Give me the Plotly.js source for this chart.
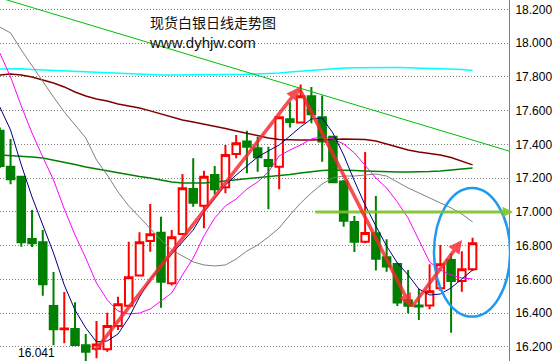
<!DOCTYPE html>
<html><head><meta charset="utf-8">
<script src="https://cdn.plot.ly/plotly-3.0.1.min.js"></script>
<style>html,body{margin:0;padding:0;background:#fff;overflow:hidden}#c{width:554px;height:361px}</style>
</head><body><div id="c"></div><script>
// ---- candle data ----
const idx = [0,1,2,3,4,5,6,7,8,9,10,11,12,13,14,15,16,17,18,19,20,21,22,23,24,25,26,27,28,29,30,31,32,33,34,35,36,37,38,39,40,41,42,43,44];
const openP  = [17.482,17.268,17.209,16.840,16.820,16.443,16.305,16.307,16.210,16.190,16.186,16.324,16.445,16.623,16.828,16.877,16.578,16.870,17.136,17.037,17.219,17.146,17.344,17.417,17.378,17.308,17.268,17.549,17.530,17.686,17.561,17.446,17.180,16.941,16.824,16.874,16.732,16.692,16.477,16.446,16.446,16.548,16.716,16.591,16.660];
const highP  = [17.500,17.433,17.215,17.012,16.893,16.644,16.526,16.465,16.277,16.354,16.403,16.498,16.824,16.880,17.047,16.972,16.893,17.225,17.318,17.245,17.273,17.397,17.456,17.482,17.446,17.387,17.565,17.650,17.756,17.741,17.690,17.452,17.190,16.976,17.356,17.095,16.838,16.700,16.656,16.544,16.691,16.805,16.755,16.767,16.848];
const lowP   = [17.260,17.165,16.794,16.792,16.504,16.210,16.222,16.207,16.100,16.133,16.172,16.301,16.440,16.620,16.765,16.433,16.564,16.866,17.031,16.903,17.105,17.111,17.318,17.229,17.239,17.016,17.134,17.500,17.526,17.526,17.298,17.170,16.913,16.763,16.815,16.653,16.646,16.443,16.400,16.360,16.423,16.532,16.285,16.528,16.650];
const closeP = [17.273,17.194,16.820,16.815,16.572,16.305,16.310,16.212,16.172,16.215,16.325,16.453,16.613,16.820,16.868,16.587,16.850,17.140,17.055,17.209,17.134,17.338,17.407,17.387,17.324,17.273,17.561,17.533,17.686,17.579,17.417,17.176,16.948,16.824,16.876,16.723,16.677,16.463,16.444,16.440,16.530,16.691,16.591,16.660,16.815];

// ---- indicator lines ----
const maNavy = [17.622,17.486,17.279,17.089,16.923,16.757,16.567,16.419,16.313,16.230,16.236,16.277,16.372,16.496,16.597,16.680,16.751,16.822,16.893,17.000,17.083,17.160,17.219,17.273,17.326,17.362,17.397,17.450,17.504,17.551,17.557,17.468,17.338,17.184,17.041,16.917,16.798,16.698,16.627,16.544,16.508,16.514,16.550,16.603,16.656];
const maMagenta = [17.942,17.800,17.628,17.468,17.326,17.190,17.018,16.864,16.727,16.579,16.479,16.413,16.396,16.401,16.425,16.473,16.520,16.627,16.727,16.858,16.964,17.036,17.077,17.136,17.178,17.237,17.332,17.367,17.397,17.433,17.445,17.433,17.403,17.350,17.279,17.202,17.142,17.059,16.964,16.834,16.704,16.656,16.627,16.609,16.603];
const maGray = [18.096,18.061,17.960,17.865,17.776,17.681,17.593,17.516,17.439,17.308,17.219,17.119,17.036,16.970,16.899,16.834,16.775,16.739,16.704,16.686,16.680,16.686,16.721,16.769,16.804,16.852,16.905,16.982,17.053,17.113,17.166,17.202,17.213,17.213,17.219,17.225,17.213,17.178,17.142,17.113,17.083,17.053,17.024,16.988,16.941];
const maDarkGreen = [17.338,17.335,17.332,17.326,17.320,17.308,17.296,17.281,17.267,17.255,17.243,17.231,17.219,17.210,17.201,17.190,17.178,17.172,17.172,17.172,17.178,17.184,17.190,17.196,17.201,17.207,17.213,17.222,17.231,17.240,17.246,17.249,17.249,17.246,17.243,17.240,17.237,17.237,17.237,17.237,17.240,17.243,17.249,17.255,17.261];
const maMaroon = [17.812,17.818,17.812,17.800,17.782,17.764,17.741,17.711,17.687,17.670,17.658,17.640,17.628,17.616,17.599,17.581,17.563,17.545,17.533,17.521,17.510,17.495,17.480,17.465,17.450,17.439,17.430,17.427,17.427,17.427,17.427,17.430,17.433,17.433,17.430,17.421,17.403,17.385,17.367,17.355,17.347,17.338,17.323,17.302,17.279];
const maCyan = [17.847,17.850,17.849,17.844,17.841,17.838,17.835,17.832,17.829,17.826,17.824,17.820,17.818,17.815,17.812,17.812,17.812,17.812,17.812,17.812,17.812,17.813,17.815,17.816,17.818,17.820,17.824,17.830,17.835,17.841,17.845,17.850,17.853,17.855,17.856,17.857,17.857,17.856,17.855,17.853,17.851,17.850,17.847,17.844,17.838];

// ---- drawn objects (in axis units) ----
const trendX = [0, 47.39];
const trendY = [18.269, 17.361];
const redArrows = [ // [tailX, tailY, tipX, tipY]
  [8.77, 16.170, 27.94, 17.741],
  [27.85, 17.735, 38.27, 16.437],
  [38.27, 16.431, 43.02, 16.834]
];
const greenArrow = [29.24, 17.0, 47.77, 17.0];
const ellipseX = [40.41, 47.49];
const ellipseY = [16.380, 17.142];
const yTicks = [16.2,16.4,16.6,16.8,17.0,17.2,17.4,17.6,17.8,18.0,18.2];
const titleText = '现货白银日线走势图';
const siteText = 'www.dyhjw.com';
const lowLabel = '16.041';

const W = 509, H = 361;
const traces = [
  {type:'candlestick', x:idx, open:openP, high:highP, low:lowP, close:closeP,
   increasing:{line:{color:'#ff0000', width:2}, fillcolor:'#ffffff'},
   decreasing:{line:{color:'#008000', width:2}, fillcolor:'#008000'},
   whiskerwidth:0, hoverinfo:'skip', showlegend:false},
  {type:'scatter', mode:'lines', x:idx, y:maCyan, line:{color:'#00ffff', width:1.5}, hoverinfo:'skip'},
  {type:'scatter', mode:'lines', x:idx, y:maMaroon, line:{color:'#800000', width:1.5}, hoverinfo:'skip'},
  {type:'scatter', mode:'lines', x:idx, y:maDarkGreen, line:{color:'#008000', width:1.5}, hoverinfo:'skip'},
  {type:'scatter', mode:'lines', x:idx, y:maGray, line:{color:'#808080', width:1}, hoverinfo:'skip'},
  {type:'scatter', mode:'lines', x:idx, y:maMagenta, line:{color:'#ff00ff', width:1}, hoverinfo:'skip'},
  {type:'scatter', mode:'lines', x:idx, y:maNavy, line:{color:'#000080', width:1}, hoverinfo:'skip'},
  {type:'scatter', mode:'lines', x:trendX, y:trendY, line:{color:'#00c000', width:1}, hoverinfo:'skip'}
];

const annotations = [];
annotations.push({x:greenArrow[2], y:greenArrow[3], ax:greenArrow[0], ay:greenArrow[1], xref:'x', yref:'y', axref:'x', ayref:'y',
  text:'', showarrow:true, arrowhead:2, arrowsize:0.7, arrowwidth:3, arrowcolor:'rgba(125,195,45,0.9)', standoff:0, startstandoff:0});
redArrows.forEach(a => annotations.push({x:a[2], y:a[3], ax:a[0], ay:a[1], xref:'x', yref:'y', axref:'x', ayref:'y',
  text:'', showarrow:true, arrowhead:2, arrowsize:0.75, arrowwidth:3.6, arrowcolor:'rgba(245,40,45,0.82)', standoff:0, startstandoff:0}));
annotations.push({xref:'paper', yref:'paper', x:148/W, y:1-22/H, xanchor:'left', yanchor:'middle', showarrow:false,
  text:titleText, font:{family:'Noto Sans CJK SC', size:14, color:'#111'}});
annotations.push({xref:'paper', yref:'paper', x:147/W, y:1-42/H, xanchor:'left', yanchor:'middle', showarrow:false,
  text:siteText, font:{family:'Liberation Sans, Arial, sans-serif', size:15, color:'#111'}});
annotations.push({xref:'paper', yref:'paper', x:16/W, y:1-344/H, xanchor:'left', yanchor:'top', showarrow:false,
  text:lowLabel, font:{family:'Liberation Sans, Arial, sans-serif', size:12, color:'#000'}});

const layout = {
  width:554, height:361, margin:{l:0, r:45, t:0, b:0}, paper_bgcolor:'#fff', plot_bgcolor:'#fff',
  showlegend:false, boxgap:0.3, boxgroupgap:0,
  xaxis:{range:[0.0186, 47.39], showgrid:false, zeroline:false, showticklabels:false, ticks:'', showline:false,
         rangeslider:{visible:false}, fixedrange:true},
  yaxis:{side:'right', range:[16.117, 18.256], tickvals:yTicks, ticktext:yTicks.map(v=>v.toFixed(3)),
         showgrid:true, gridcolor:'#808080', griddash:'1px,2px', gridwidth:1, zeroline:false,
         showline:true, linecolor:'#808080', linewidth:1, ticks:'', ticklabelstandoff:3,
         tickfont:{family:'Liberation Sans, Arial, sans-serif', size:12, color:'#000'}, fixedrange:true},
  shapes:[{type:'circle', xref:'x', yref:'y', x0:ellipseX[0], x1:ellipseX[1], y0:ellipseY[0], y1:ellipseY[1],
           line:{color:'#1e9bee', width:2.5}}],
  annotations:annotations
};
Plotly.newPlot('c', traces, layout, {staticPlot:true, displayModeBar:false});
</script></body></html>
